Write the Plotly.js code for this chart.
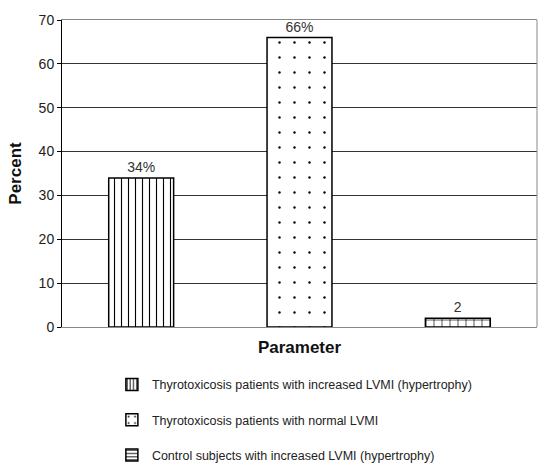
<!DOCTYPE html>
<html>
<head>
<meta charset="utf-8">
<script src="https://cdn.plot.ly/plotly-3.0.1.min.js"></script>
<style>html,body{margin:0;padding:0;background:#fff;}#chart{width:539px;height:470px;}</style>
</head>
<body>
<div id="chart"></div>
<script>
var categories = [
  "Thyrotoxicosis patients with increased LVMI (hypertrophy)",
  "Thyrotoxicosis patients with normal LVMI",
  "Control subjects with increased LVMI (hypertrophy)"
];
var values = [34, 66, 2];
var valueLabels = ["34%", "66%", "2"];
var barPatterns = ["|", ".", "+"];
var legendPatterns = ["|", ".", "-"];
var patternSizes = [7, 15, 8];
var patternSolidity = [0.16, 0.02, 0.16];

var traces = [];
for (var i = 0; i < categories.length; i++) {
  traces.push({
    type: "bar",
    x: [categories[i]],
    y: [values[i]],
    text: [valueLabels[i]],
    textposition: "outside",
    cliponaxis: false,
    constraintext: "none",
    textfont: {family: "Arial, Liberation Sans, sans-serif", size: 14, color: "#333"},
    showlegend: false,
    hoverinfo: "skip",
    marker: {
      color: "#fff",
      line: {color: "#000", width: 1.5},
      pattern: {shape: barPatterns[i], fgcolor: "#000", bgcolor: "#fff", size: patternSizes[i], solidity: patternSolidity[i]}
    }
  });
}
for (var j = 0; j < categories.length; j++) {
  traces.push({
    type: "bar",
    x: [categories[j]],
    y: [null],
    name: categories[j],
    legendgroup: "g" + j,
    showlegend: true,
    hoverinfo: "skip",
    marker: {
      color: "#fff",
      line: {color: "#000", width: 1.5},
      pattern: {shape: legendPatterns[j], fgcolor: "#000", bgcolor: "#fff", size: j === 1 ? 8 : 4, solidity: j === 1 ? 0.06 : 0.3}
    }
  });
}

var layout = {
  width: 539,
  height: 470,
  margin: {l: 62, r: 2, t: 20, b: 143, autoexpand: false},
  paper_bgcolor: "#fff",
  plot_bgcolor: "#fff",
  barmode: "overlay",
  bargap: 0.59,
  font: {family: "Arial, Liberation Sans, sans-serif", size: 13, color: "#222"},
  xaxis: {
    type: "category",
    categoryorder: "array",
    categoryarray: categories,
    showticklabels: false,
    ticks: "",
    showgrid: false,
    zeroline: false,
    showline: true,
    linecolor: "#888",
    linewidth: 1,
    mirror: true,
    title: {text: "Parameter", font: {size: 17, color: "#111", family: "Arial, Liberation Sans, sans-serif", weight: "bold"}, standoff: 14}
  },
  yaxis: {
    range: [0, 70],
    dtick: 10,
    ticks: "outside",
    ticklen: 4,
    tickcolor: "#000",
    showline: true,
    linecolor: "#000",
    linewidth: 1,
    showgrid: true,
    gridcolor: "#333",
    gridwidth: 1,
    zeroline: false,
    tickfont: {size: 14, color: "#222"},
    title: {text: "Percent", font: {size: 17, color: "#111", family: "Arial, Liberation Sans, sans-serif", weight: "bold"}, standoff: 12}
  },
  shapes: [
    {type: "line", xref: "paper", yref: "paper", x0: 1, x1: 1, y0: 0, y1: 1, line: {color: "#888", width: 1}}
  ],
  legend: {
    x: 0.105,
    y: -0.14,
    xanchor: "left",
    yanchor: "top",
    orientation: "v",
    traceorder: "grouped",
    tracegroupgap: 16,
    font: {size: 12.5, color: "#222"},
    bgcolor: "rgba(0,0,0,0)"
  }
};

Plotly.newPlot("chart", traces, layout, {staticPlot: true, displayModeBar: false});
</script>
</body>
</html>
